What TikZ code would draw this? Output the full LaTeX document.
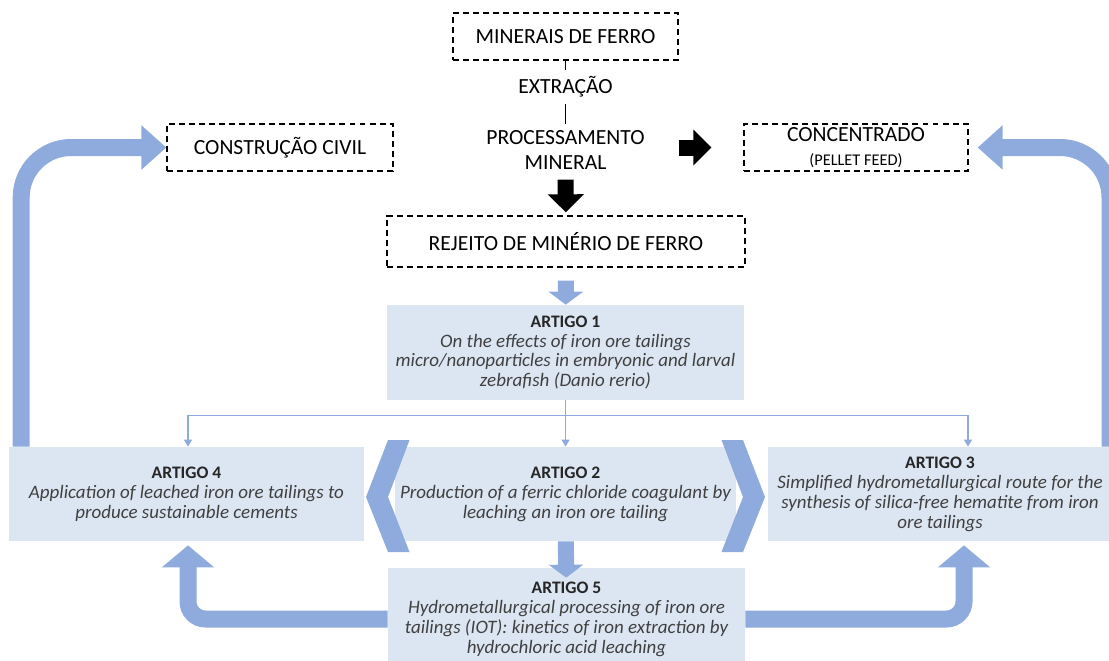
\documentclass[tikz,border=0pt]{standalone}
\usepackage{fontspec}
\setmainfont{Carlito}
\usetikzlibrary{positioning, arrows.meta, calc}
\definecolor{boxblue}{HTML}{DCE6F2}
\definecolor{arrblue}{HTML}{8FAADC}
\definecolor{txtgray}{HTML}{404040}
\newcommand{\arttitle}[1]{{\upshape\bfseries\fontsize{10}{11.34}\selectfont\color{black!85}#1}}

\begin{document}
\begin{tikzpicture}[x=0.02cm, y=-0.02cm,
		dbox/.style={draw=black, line width=0.8pt, dash pattern=on 3.4pt off 2.3pt, minimum height=0.94cm, inner sep=0pt, align=center, font=\fontsize{12.3}{14}\selectfont},
		plain/.style={align=center, font=\fontsize{12.3}{14}\selectfont},
		art/.style={fill=boxblue, minimum height=1.88cm, inner sep=0pt, align=center, text=txtgray, font=\fontsize{10.8}{11.34}\selectfont\itshape},
		blkarr/.style={draw=black, line width=0.32cm, -{Triangle[length=0.36cm, width=0.7cm]}},
		midarr/.style={draw=arrblue, line width=0.32cm, -{Triangle[length=0.26cm, width=0.68cm]}},
		bigarr/.style={draw=arrblue, line width=0.34cm, -{Triangle[length=0.5cm, width=0.86cm]}},
		botarr/.style={draw=arrblue, line width=0.34cm, rounded corners=0.35cm, -{Triangle[length=0.44cm, width=1.02cm]}},
		thinarr/.style={draw=arrblue, line width=0.85pt, -{Triangle[length=4pt, width=4.5pt]}}
		]
		\useasboundingbox (0,0) rectangle (1109,660);
		\clip (0,0) rectangle (1109,660);
		
		% upper chain
		\node[dbox, minimum width=4.5cm] (mf) at (565.5, 36.5) {MINERAIS DE FERRO};
		\node[plain] (ext) at (565.5, 87) {EXTRAÇÃO};
		\node[plain, font=\fontsize{12.3}{14.2}\selectfont] (proc) at (565.5, 150) {PROCESSAMENTO\\MINERAL};
		\node[dbox, minimum width=4.52cm] (civ) at (280, 147.5) {CONSTRUÇÃO CIVIL};
		\node[dbox, minimum width=4.48cm] (conc) at (856, 147.5) {CONCENTRADO\\{\fontsize{9.3}{14}\selectfont (PELLET FEED)}};
		\node[dbox, minimum width=7.16cm, minimum height=1.02cm] (rej) at (566, 241.5) {REJEITO DE MINÉRIO DE FERRO};
		
		\draw[line width=0.6pt] (mf) -- (ext);
		\draw[line width=0.6pt] (ext) -- (proc);
		\draw[blkarr, shorten <=0.08cm, shorten >=0.06cm] (proc) -- (rej);
		\draw[blkarr, shorten <=0.56cm, shorten >=0.64cm] (proc.east |- conc.west) -- (conc.west);
		
		% articles
		\node[art, minimum width=7.14cm, minimum height=1.9cm] (a1) at (565.5, 352.5) {\arttitle{ARTIGO 1}\\On the effects of iron ore tailings\\micro/nanoparticles in embryonic and larval\\zebrafish (Danio rerio)};
		\node[art, minimum width=7.1cm] (a4) at (186.5, 494) {\arttitle{ARTIGO 4}\\Application of leached iron ore tailings to\\produce sustainable cements};
		\node[art, minimum width=6.82cm] (a2) at (565.5, 494) {\arttitle{ARTIGO 2}\\Production of a ferric chloride coagulant by\\leaching an iron ore tailing};
		\node[art, minimum width=6.88cm] (a3) at (940, 494) {\arttitle{ARTIGO 3}\\Simplified hydrometallurgical route for the\\synthesis of silica-free hematite from iron\\ore tailings};
		\node[art, minimum width=7.14cm, minimum height=2.04cm] (a5) at (566.5, 619) {\arttitle{ARTIGO 5}\\Hydrometallurgical processing of iron ore\\tailings (IOT): kinetics of iron extraction by\\hydrochloric acid leaching};
		
		% chevrons
		\fill[arrblue] (388,440) -- (409.5,440) -- (388,497) -- (409.5,552) -- (388,552) -- (366,497) -- cycle;
		\fill[arrblue] (743,440) -- (721.5,440) -- (743,497) -- (721.5,552) -- (743,552) -- (765,497) -- cycle;
		
		\draw[midarr, shorten <=0.26cm] (rej) -- (a1);
		\draw[midarr, shorten >=-0.2cm] (a2) -- (a5);
		
		% thin split
		\coordinate (split) at ($(a1.south)+(0,15)$);
		\draw[thinarr] (a1) -- (a2);
		\foreach \t/\dx in {a4/1.5, a3/28}
			\draw[thinarr] (split) -| ($(\t.north)+(\dx,0)$);
		
		% big return arrows
		\draw[bigarr, rounded corners=1cm] ($(a4.north west)+(12.5,0)$) |- (civ.west);
		\draw[bigarr, rounded corners=1cm, shorten >=0.18cm] ($(a3.north)+(170,0)$) |- (conc.east);
		\draw[botarr, shorten >=0.08cm] (a5.west) -| ($(a4.south)+(1.5,0)$);
		\draw[botarr, shorten >=0.08cm] (a5.east) -| ($(a3.south)+(24,0)$);
\end{tikzpicture}
\end{document}
